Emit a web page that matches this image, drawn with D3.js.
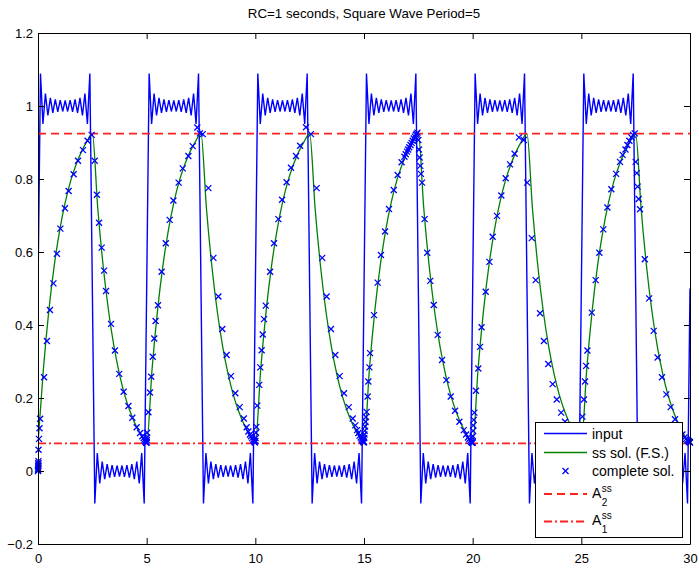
<!DOCTYPE html>
<html><head><meta charset="utf-8">
<script src="https://cdn.jsdelivr.net/npm/d3@7/dist/d3.min.js"></script>
<style>body{margin:0;background:#fff} svg{display:block;font-family:"Liberation Sans",Arial,Helvetica,sans-serif}</style>
</head><body><svg id="c" width="699" height="578"></svg>
<script>
// ---------------- DATA ----------------
const chartTitle = "RC=1 seconds, Square Wave Period=5";
const xTicks = [0, 5, 10, 15, 20, 25, 30];
const xTickLabels = ["0", "5", "10", "15", "20", "25", "30"];
const yTicks = [-0.2, 0, 0.2, 0.4, 0.6, 0.8, 1, 1.2];
const yTickLabels = ["\u22120.2", "0", "0.2", "0.4", "0.6", "0.8", "1", "1.2"];

// input (Fourier-series square wave), sampled on a uniform time grid
const inputStart = 0;
const inputStep = 0.113636;
const inputValues = [
 0.5, 1.089, 0.951, 1.034, 0.974, 1.022, 0.981, 1.018, 0.984, 1.016, 0.985, 1.015, 0.985, 1.016, 0.984, 1.018, 0.981, 1.022, 0.974, 1.034, 0.951, 1.089,
 0.5, -0.089, 0.049, -0.034, 0.026, -0.022, 0.019, -0.018, 0.016, -0.016, 0.015, -0.015, 0.015, -0.016, 0.016, -0.018, 0.019, -0.022, 0.026, -0.034, 0.049, -0.089,
 0.5, 1.089, 0.951, 1.034, 0.974, 1.022, 0.981, 1.018, 0.984, 1.016, 0.985, 1.015, 0.985, 1.016, 0.984, 1.018, 0.981, 1.022, 0.974, 1.034, 0.951, 1.089,
 0.5, -0.089, 0.049, -0.034, 0.026, -0.022, 0.019, -0.018, 0.016, -0.016, 0.015, -0.015, 0.015, -0.016, 0.016, -0.018, 0.019, -0.022, 0.026, -0.034, 0.049, -0.089,
 0.5, 1.089, 0.951, 1.034, 0.974, 1.022, 0.981, 1.018, 0.984, 1.016, 0.985, 1.015, 0.985, 1.016, 0.984, 1.018, 0.981, 1.022, 0.974, 1.034, 0.951, 1.089,
 0.5, -0.089, 0.049, -0.034, 0.026, -0.022, 0.019, -0.018, 0.016, -0.016, 0.015, -0.015, 0.015, -0.016, 0.016, -0.018, 0.019, -0.022, 0.026, -0.034, 0.049, -0.089,
 0.5, 1.089, 0.951, 1.034, 0.974, 1.022, 0.981, 1.018, 0.984, 1.016, 0.985, 1.015, 0.985, 1.016, 0.984, 1.018, 0.981, 1.022, 0.974, 1.034, 0.951, 1.089,
 0.5, -0.089, 0.049, -0.034, 0.026, -0.022, 0.019, -0.018, 0.016, -0.016, 0.015, -0.015, 0.015, -0.016, 0.016, -0.018, 0.019, -0.022, 0.026, -0.034, 0.049, -0.089,
 0.5, 1.089, 0.951, 1.034, 0.974, 1.022, 0.981, 1.018, 0.984, 1.016, 0.985, 1.015, 0.985, 1.016, 0.984, 1.018, 0.981, 1.022, 0.974, 1.034, 0.951, 1.089,
 0.5, -0.089, 0.049, -0.034, 0.026, -0.022, 0.019, -0.018, 0.016, -0.016, 0.015, -0.015, 0.015, -0.016, 0.016, -0.018, 0.019, -0.022, 0.026, -0.034, 0.049, -0.089,
 0.5, 1.089, 0.951, 1.034, 0.974, 1.022, 0.981, 1.018, 0.984, 1.016, 0.985, 1.015, 0.985, 1.016, 0.984, 1.018, 0.981, 1.022, 0.974, 1.034, 0.951, 1.089,
 0.5, -0.089, 0.049, -0.034, 0.026, -0.022, 0.019, -0.018, 0.016, -0.016, 0.015, -0.015, 0.015, -0.016, 0.016, -0.018, 0.019, -0.022, 0.026, -0.034, 0.049, -0.089,
 0.5
];

// steady-state solution (F.S.), uniform time grid
const ssStart = 0;
const ssStep = 0.25;
const ssValues = [
 0.076, 0.280, 0.440, 0.564, 0.660, 0.735, 0.794, 0.839, 0.875, 0.903, 0.924, 0.720, 0.561, 0.437, 0.340, 0.265, 0.206, 0.161, 0.125, 0.097,
 0.076, 0.280, 0.440, 0.564, 0.660, 0.735, 0.794, 0.839, 0.875, 0.903, 0.924, 0.720, 0.561, 0.437, 0.340, 0.265, 0.206, 0.161, 0.125, 0.097,
 0.076, 0.280, 0.440, 0.564, 0.660, 0.735, 0.794, 0.839, 0.875, 0.903, 0.924, 0.720, 0.561, 0.437, 0.340, 0.265, 0.206, 0.161, 0.125, 0.097,
 0.076, 0.280, 0.440, 0.564, 0.660, 0.735, 0.794, 0.839, 0.875, 0.903, 0.924, 0.720, 0.561, 0.437, 0.340, 0.265, 0.206, 0.161, 0.125, 0.097,
 0.076, 0.280, 0.440, 0.564, 0.660, 0.735, 0.794, 0.839, 0.875, 0.903, 0.924, 0.720, 0.561, 0.437, 0.340, 0.265, 0.206, 0.161, 0.125, 0.097,
 0.076, 0.280, 0.440, 0.564, 0.660, 0.735, 0.794, 0.839, 0.875, 0.903, 0.924, 0.720, 0.561, 0.437, 0.340, 0.265, 0.206, 0.161, 0.125, 0.097,
 0.076
];

// complete solution (ODE solver steps)
const completeT = [
 0, 0.003, 0.006, 0.009, 0.012, 0.015, 0.018, 0.021, 0.025, 0.045, 0.07, 0.10,
 0.28, 0.41, 0.55, 0.71, 0.87, 1.03, 1.24, 1.41, 1.64, 1.84, 2.07, 2.28, 2.47,
 2.61, 2.71, 2.81, 2.93, 3.04, 3.13, 3.36, 3.54, 3.74, 3.94, 4.16, 4.34, 4.54,
 4.70, 4.80, 4.86, 4.90, 4.93, 4.95, 4.97, 4.99, 5.00,
 5.005, 5.01, 5.02, 5.08, 5.15, 5.21, 5.28, 5.35, 5.41, 5.52, 5.69, 5.88, 6.06, 6.23, 6.47, 6.66, 6.92, 7.12, 7.33, 7.45,
 7.58, 7.84, 8.07, 8.30, 8.48, 8.68, 8.88, 9.08, 9.28, 9.47,
 9.60, 9.68, 9.75, 9.80, 9.85, 9.90, 9.93, 9.96, 9.98, 10.00,
 10.01, 10.03, 10.05, 10.09, 10.18, 10.23, 10.29, 10.34, 10.40, 10.48, 10.68, 10.86, 11.06, 11.23, 11.44, 11.64, 11.87, 12.06, 12.33, 12.56,
 12.82, 13.08, 13.28, 13.48, 13.68, 13.88, 14.08, 14.30, 14.48,
 14.60, 14.68, 14.74, 14.80, 14.85, 14.89, 14.92, 14.95, 14.97, 14.99, 15.00,
 15.01, 15.02, 15.03, 15.05, 15.07, 15.09, 15.12, 15.17, 15.20, 15.25, 15.28, 15.46, 15.63, 15.78, 15.97, 16.15, 16.37, 16.55, 16.73, 16.86, 16.92, 16.98, 17.03, 17.08, 17.14, 17.19, 17.24, 17.29, 17.34, 17.38, 17.42, 17.46,
 17.50, 17.53, 17.56, 17.59, 17.62, 17.67, 17.79, 17.91, 18.05, 18.21, 18.39, 18.59, 18.79, 18.99, 19.19, 19.39, 19.59,
 19.70, 19.78, 19.84, 19.89, 19.93, 19.96, 19.98, 20.00,
 20.01, 20.02, 20.03, 20.05, 20.08, 20.15, 20.26, 20.34, 20.41, 20.60, 20.77, 20.92, 21.12, 21.32, 21.52, 21.72, 21.93, 22.13, 22.35,
 22.51, 22.72, 22.90, 23.10, 23.28, 23.48, 23.68, 23.87, 24.07, 24.25, 24.45, 24.62, 24.75, 24.85, 24.92, 24.97, 25.00,
 25.01, 25.03, 25.05, 25.12, 25.17, 25.22, 25.28, 25.48, 25.66, 25.83, 26.01, 26.20, 26.38, 26.60, 26.78, 26.90, 27.03, 27.12, 27.21, 27.30, 27.38, 27.46,
 27.50, 27.55, 27.59, 27.64, 27.70, 27.92, 28.12, 28.33, 28.51, 28.71, 28.91, 29.11, 29.31, 29.50, 29.65, 29.75, 29.82, 29.88, 29.92, 29.95, 29.97, 29.99, 30.00
];
const completeV = [
 0, 0.003, 0.006, 0.010, 0.014, 0.018, 0.022, 0.027, 0.058, 0.088, 0.117, 0.143,
 0.257, 0.356, 0.441, 0.514, 0.595, 0.664, 0.720, 0.767, 0.813, 0.850, 0.879, 0.905, 0.921,
 0.850, 0.757, 0.680, 0.612, 0.549, 0.493, 0.403, 0.330, 0.266, 0.217, 0.178, 0.146, 0.120,
 0.104, 0.095, 0.090, 0.086, 0.083, 0.080, 0.078, 0.077, 0.080,
 0.085, 0.092, 0.105, 0.161, 0.215, 0.258, 0.313, 0.363, 0.411, 0.454, 0.546, 0.624, 0.688, 0.741, 0.790, 0.829, 0.863, 0.890, 0.941, 0.925,
 0.923, 0.775, 0.584, 0.478, 0.389, 0.318, 0.260, 0.213, 0.175, 0.144,
 0.120, 0.108, 0.100, 0.095, 0.090, 0.086, 0.083, 0.080, 0.078, 0.082,
 0.090, 0.105, 0.121, 0.179, 0.236, 0.284, 0.331, 0.374, 0.416, 0.453, 0.546, 0.624, 0.690, 0.743, 0.791, 0.831, 0.863, 0.891, 0.942, 0.923,
 0.775, 0.584, 0.478, 0.389, 0.318, 0.260, 0.213, 0.175, 0.144,
 0.125, 0.112, 0.104, 0.097, 0.092, 0.088, 0.085, 0.082, 0.080, 0.078, 0.080,
 0.090, 0.100, 0.110, 0.122, 0.135, 0.148, 0.162, 0.204, 0.245, 0.284, 0.323, 0.427, 0.516, 0.592, 0.656, 0.718, 0.770, 0.811, 0.846, 0.861, 0.868, 0.875, 0.881, 0.887, 0.893, 0.899, 0.905, 0.911, 0.916, 0.921, 0.924, 0.927,
 0.907, 0.881, 0.859, 0.836, 0.814, 0.790, 0.690, 0.598, 0.521, 0.455, 0.373, 0.304, 0.249, 0.204, 0.165, 0.135, 0.112,
 0.100, 0.092, 0.087, 0.083, 0.080, 0.078, 0.077, 0.078,
 0.095, 0.110, 0.125, 0.140, 0.160, 0.220, 0.281, 0.340, 0.394, 0.491, 0.573, 0.642, 0.699, 0.755, 0.802, 0.840, 0.869, 0.914, 0.907,
 0.790, 0.638, 0.523, 0.432, 0.356, 0.293, 0.238, 0.196, 0.160, 0.135, 0.115, 0.100, 0.092, 0.086, 0.082, 0.079, 0.080,
 0.100, 0.125, 0.149, 0.196, 0.245, 0.288, 0.330, 0.434, 0.523, 0.598, 0.662, 0.722, 0.772, 0.814, 0.847, 0.866, 0.881, 0.893, 0.905, 0.914, 0.921, 0.925,
 0.847, 0.816, 0.779, 0.745, 0.717, 0.580, 0.473, 0.384, 0.311, 0.257, 0.210, 0.175, 0.142, 0.115, 0.100, 0.092, 0.088, 0.085, 0.083, 0.081, 0.080, 0.079, 0.078
];

// steady-state levels
const levelA2 = 0.9241;
const levelA1 = 0.0759;
const xDomain = [0, 30];
const yDomain = [-0.2, 1.2];
const legendLabels = ["input", "ss sol. (F.S.)", "complete sol.", "A", "A"];
const legendSup = ["", "", "", "ss", "ss"];
const legendSub = ["", "", "", "2", "1"];

// ---------------- DRAW ----------------
const svg = d3.select("#c");
const L = 38, R = 690, T = 33, B = 544;
const x = d3.scaleLinear().domain(xDomain).range([L, R]);
const y = d3.scaleLinear().domain(yDomain).range([B, T]);

const BLUE = "#0000ff", GREEN = "#008000", RED = "#ff2020";
const BW = 1.4, GW = 1.3, RW = 1.8;

svg.append("rect").attr("width", 699).attr("height", 578).attr("fill", "#fff");

// title
svg.append("text").attr("x", (L + R) / 2).attr("y", 18).attr("text-anchor", "middle")
  .attr("font-size", 13.3).text(chartTitle);

const gPlot = svg.append("g");
svg.append("clipPath").attr("id", "pc").append("rect")
  .attr("x", L).attr("y", T).attr("width", R - L).attr("height", B - T);
gPlot.attr("clip-path", "url(#pc)");

const line = d3.line().x(d => x(d[0])).y(d => y(d[1]));
const smooth = d3.line().x(d => x(d[0])).y(d => y(d[1])).curve(d3.curveMonotoneX);

const inputData = inputValues.map((v, i) => [inputStart + i * inputStep, v]);
const ssData = ssValues.map((v, i) => [ssStart + i * ssStep, v]);
const compData = completeT.map((t, i) => [t, completeV[i]]);

gPlot.append("path").datum(inputData).attr("d", line)
  .attr("fill", "none").attr("stroke", BLUE).attr("stroke-width", BW);
gPlot.append("path").datum(ssData).attr("d", smooth)
  .attr("fill", "none").attr("stroke", GREEN).attr("stroke-width", GW);

const crossPath = "M-3,-3L3,3M-3,3L3,-3";
svg.append("g").selectAll("path").data(compData).join("path")
  .attr("transform", d => `translate(${x(d[0])},${y(d[1])})`)
  .attr("d", crossPath).attr("stroke", BLUE).attr("stroke-width", 1.3).attr("fill", "none");

gPlot.append("path").datum([[xDomain[0], levelA2], [xDomain[1], levelA2]]).attr("d", line)
  .attr("stroke", RED).attr("stroke-width", RW).attr("stroke-dasharray", "8,5").attr("fill", "none");
gPlot.append("path").datum([[xDomain[0], levelA1], [xDomain[1], levelA1]]).attr("d", line)
  .attr("stroke", RED).attr("stroke-width", RW).attr("stroke-dasharray", "8,3,2,3").attr("fill", "none");

// axes (ticks inward on all four sides)
const fs = 13;
const axB = svg.append("g").attr("transform", `translate(0,${B})`)
  .call(d3.axisBottom(x).tickValues(xTicks).tickFormat((d, i) => xTickLabels[i]).tickSizeInner(-6).tickSizeOuter(0).tickPadding(10));
const axT = svg.append("g").attr("transform", `translate(0,${T})`)
  .call(d3.axisTop(x).tickValues(xTicks).tickFormat("").tickSizeInner(-6).tickSizeOuter(0));
const axLf = svg.append("g").attr("transform", `translate(${L},0)`)
  .call(d3.axisLeft(y).tickValues(yTicks).tickFormat((d, i) => yTickLabels[i]).tickSizeInner(-6).tickSizeOuter(0).tickPadding(5));
const axRt = svg.append("g").attr("transform", `translate(${R},0)`)
  .call(d3.axisRight(y).tickValues(yTicks).tickFormat("").tickSizeInner(-6).tickSizeOuter(0));
[axB, axT, axLf, axRt].forEach(g => {
  g.attr("font-family", null).attr("font-size", fs);
  g.selectAll("path.domain").attr("stroke", "#000").attr("stroke-width", 1);
  g.selectAll(".tick line").attr("stroke", "#000");
  g.selectAll("text").attr("fill", "#000");
});
axB.selectAll("text").attr("y", 10).attr("dy", "0.71em");
axLf.selectAll("text").attr("x", -5);

// legend
const lg = svg.append("g");
lg.append("rect").attr("x", 535.5).attr("y", 422.5).attr("width", 147).attr("height", 115)
  .attr("fill", "#fff").attr("stroke", "#000").attr("stroke-width", 1);
const rowY = [433.5, 452.5, 471, 494, 521.5];
const lx0 = 544, lx1 = 587, tx = 592;
lg.append("line").attr("x1", lx0).attr("x2", lx1).attr("y1", rowY[0]).attr("y2", rowY[0]).attr("stroke", BLUE).attr("stroke-width", BW);
lg.append("line").attr("x1", lx0).attr("x2", lx1).attr("y1", rowY[1]).attr("y2", rowY[1]).attr("stroke", GREEN).attr("stroke-width", GW);
lg.append("path").attr("transform", `translate(${(lx0 + lx1) / 2},${rowY[2]})`).attr("d", crossPath).attr("stroke", BLUE).attr("stroke-width", 1.3).attr("fill", "none");
lg.append("line").attr("x1", lx0).attr("x2", lx1).attr("y1", rowY[3]).attr("y2", rowY[3]).attr("stroke", RED).attr("stroke-width", RW).attr("stroke-dasharray", "8,5");
lg.append("line").attr("x1", lx0).attr("x2", lx1).attr("y1", rowY[4]).attr("y2", rowY[4]).attr("stroke", RED).attr("stroke-width", RW).attr("stroke-dasharray", "8,3,2,3");
legendLabels.forEach((lab, i) => {
  if (!legendSup[i]) {
    lg.append("text").attr("x", tx).attr("y", rowY[i] + 5).attr("font-size", 14).text(lab);
  } else {
    const base = rowY[i] + 3.5;
    const t = lg.append("text").attr("x", tx).attr("y", base).attr("font-size", 14).text(lab);
    const w = t.node().getComputedTextLength();
    lg.append("text").attr("x", tx + w + 0.5).attr("y", base - 6).attr("font-size", 10).text(legendSup[i]);
    lg.append("text").attr("x", tx + w + 0.5).attr("y", base + 8).attr("font-size", 10).text(legendSub[i]);
  }
});
</script></body></html>
